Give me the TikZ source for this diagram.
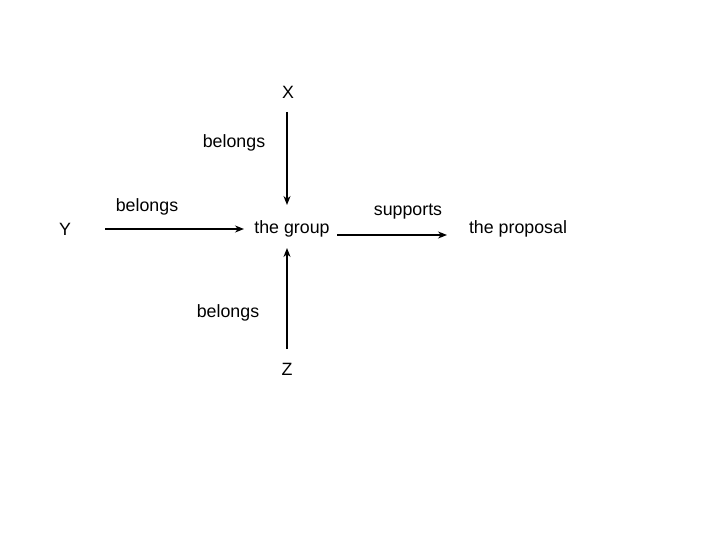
\documentclass[tikz,border=0pt]{standalone}
\usepackage{fontspec}
\setmainfont{Liberation Sans}
\usetikzlibrary{arrows.meta}
\begin{document}
\begin{tikzpicture}[x=1pt,y=-1pt,
  lbl/.style={inner sep=0pt,font=\fontsize{17.8}{20}\selectfont},
  arr/.style={-{Stealth[length=9pt,width=7pt]},line width=1.5pt}]
\useasboundingbox[fill=white] (0,0) rectangle (720,540);
\node[lbl] (X) at (288,92) {X};
\node[lbl] (Y) at (65,229) {Y};
\node[lbl] (Z) at (287,369) {Z};
\node[lbl] (grp) at (292,229) {the group};
\node[lbl] (prop) at (518,229) {the proposal};
\node[lbl] (b1) at (234,143) {belongs};
\node[lbl] (b2) at (147,207) {belongs};
\node[lbl] (b3) at (228,313) {belongs};
\node[lbl] (sup) at (408,212) {supports};
\coordinate (xs) at (287,112);
\coordinate (xe) at (287,205);
\coordinate (ys) at (105,229);
\coordinate (ye) at (244,229);
\coordinate (zs) at (287,349);
\coordinate (ze) at (287,248);
\coordinate (ss) at (337,235);
\coordinate (se) at (447,235);
\draw[arr] (xs) -- (xe);
\draw[arr] (ys) -- (ye);
\draw[arr] (zs) -- (ze);
\draw[arr,line width=1.2pt] (ss) -- (se);
\end{tikzpicture}
\end{document}
